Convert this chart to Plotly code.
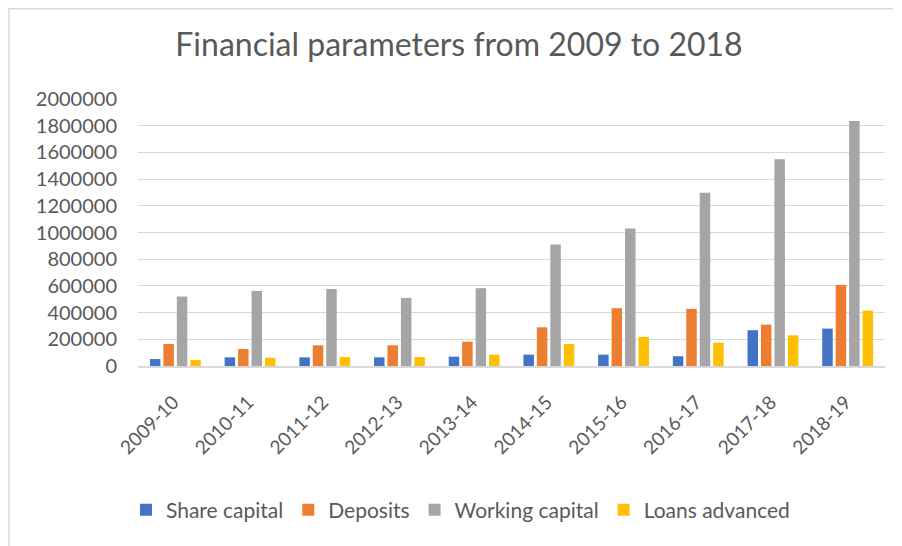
import plotly.graph_objects as go

categories = ["2009-10", "2010-11", "2011-12", "2012-13", "2013-14",
              "2014-15", "2015-16", "2016-17", "2017-18", "2018-19"]
share_capital = [52000, 65000, 65000, 65000, 70000, 85000, 85000, 73000, 268000, 280000]
deposits = [165000, 127000, 155000, 155000, 182000, 290000, 433000, 428000, 310000, 608000]
working_capital = [520000, 562000, 577000, 510000, 583000, 910000, 1030000, 1298000, 1548000, 1835000]
loans_advanced = [45000, 62000, 67000, 67000, 85000, 165000, 218000, 175000, 230000, 415000]
y_ticks = list(range(0, 2000001, 200000))

series = [
    ("Share capital", share_capital, "#4472C4"),
    ("Deposits", deposits, "#ED7D31"),
    ("Working capital", working_capital, "#A5A5A5"),
    ("Loans advanced", loans_advanced, "#FFC000"),
]

fig = go.Figure()
for name, vals, color in series:
    fig.add_trace(go.Bar(x=categories, y=vals, name=name,
                         marker=dict(color=color, line=dict(width=0))))

FONT = "Lato"
TXT = "#595959"
L, T, PW, PH = 130, 91, 747, 267
fig.update_layout(
    width=902, height=546,
    margin=dict(l=L, r=902 - L - PW, t=T, b=546 - T - PH),
    paper_bgcolor="white", plot_bgcolor="white",
    barmode="group", bargap=0.28, bargroupgap=0.22,
    title=dict(text="Financial parameters from 2009 to 2018",
               x=0.5, xanchor="center", y=0.932, yanchor="middle",
               font=dict(family=FONT, size=32, color=TXT)),
    font=dict(family=FONT, color=TXT),
    xaxis=dict(type="category", tickangle=-45, tickfont=dict(size=19, color=TXT),
               showline=True, linecolor="#D9D9D9", linewidth=1.5,
               ticks="", showgrid=False, automargin=False,
               ticklabelstandoff=16, ticklabelshift=-2),
    yaxis=dict(range=[0, 2000000], tickvals=y_ticks,
               ticktext=[str(v) for v in y_ticks],
               tickfont=dict(size=20, color=TXT),
               showgrid=True, gridcolor="#D9D9D9", gridwidth=1,
               zeroline=False, ticks="", showline=False, automargin=False,
               ticklabelstandoff=20),
    legend=dict(orientation="h", x=(118 - L) / PW, xanchor="left",
                y=-0.54, yanchor="middle",
                font=dict(family=FONT, size=21, color=TXT),
                itemwidth=30, traceorder="normal"),
    shapes=[
        dict(type="line", xref="paper", yref="paper",
             x0=(1 - L) / PW, x1=(885 - L) / PW,
             y0=(T + PH - 0.75) / PH, y1=(T + PH - 0.75) / PH,
             line=dict(color="#D9D9D9", width=1.5)),
        dict(type="line", xref="paper", yref="paper",
             x0=(1 - L) / PW, x1=(1 - L) / PW,
             y0=(T + PH) / PH, y1=(T + PH - 560) / PH,
             line=dict(color="#D9D9D9", width=1.5)),
    ],
)

fig.write_html("out.html")
